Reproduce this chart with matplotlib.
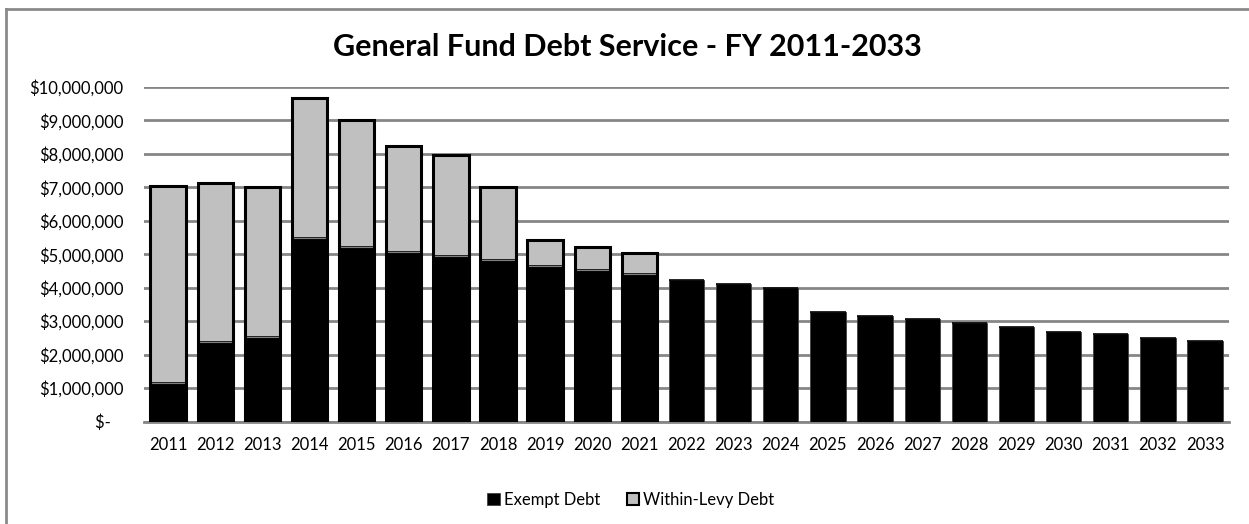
import numpy as np
import matplotlib.pyplot as plt
from matplotlib.patches import Rectangle
from matplotlib.ticker import FuncFormatter

plt.rcParams['font.family'] = ['Lato', 'DejaVu Sans']

years = [str(y) for y in range(2011, 2034)]
exempt = [1.15, 2.37, 2.54, 5.50, 5.23, 5.06, 4.95, 4.82, 4.66, 4.53, 4.41,
          4.23, 4.11, 3.99, 3.26, 3.14, 3.07, 2.94, 2.82, 2.68, 2.61, 2.49, 2.40]
total = [7.04, 7.12, 7.00, 9.66, 9.00, 8.25, 7.96, 7.00, 5.42, 5.22, 5.04,
         4.23, 4.11, 3.99, 3.26, 3.14, 3.07, 2.94, 2.82, 2.68, 2.61, 2.49, 2.40]
exempt = np.array(exempt) * 1e6
within_levy = np.array(total) * 1e6 - exempt

fig = plt.figure(figsize=(12.49, 5.24), dpi=100)
ax = fig.add_axes([0.1153, 0.1956, 0.8687, 0.6384])

x = np.arange(len(years))
w = 0.75
has_levy = within_levy > 0

# black segment
ax.bar(x, exempt, w, color='black', edgecolor='#404040', linewidth=0.6,
       label='Exempt Debt', zorder=3)
ax.bar(x, within_levy, w, bottom=exempt, color='#c0c0c0', edgecolor='black',
       linewidth=1.2, label='Within-Levy Debt', zorder=3)
# thick outline around the stacks that have within-levy debt
for xi, e, l in zip(x[has_levy], exempt[has_levy], within_levy[has_levy]):
    ax.add_patch(Rectangle((xi - w / 2, 0), w, e + l, fill=False,
                           edgecolor='black', linewidth=2.2, zorder=4))
    ax.plot([xi - w / 2, xi + w / 2], [e, e], color='#808080', linewidth=0.8,
            zorder=3.5)

ax.set_xlim(-0.51, len(years) - 0.49)
ax.set_ylim(0, 10e6)
ax.set_yticks(np.arange(0, 10.5e6, 1e6))


def money(v, pos):
    if v == 0:
        return '$-   '
    return '${:,.0f}'.format(v)


ax.yaxis.set_major_formatter(FuncFormatter(money))
ax.set_xticks(x)
ax.set_xticklabels(years)
ax.tick_params(axis='both', length=0, labelsize=12, colors='black')
ax.tick_params(axis='x', pad=11)
ax.tick_params(axis='y', pad=15)
ax.grid(axis='y', color='#868686', linewidth=2, zorder=0)
for side in ['top', 'right', 'left']:
    ax.spines[side].set_visible(False)
ax.spines['bottom'].set_color('#868686')
ax.spines['bottom'].set_linewidth(2)

fig.text(0.502, 0.91, 'General Fund Debt Service - FY 2011-2033',
         ha='center', va='center', fontsize=22, fontweight='bold')

leg = fig.legend(loc='center', bbox_to_anchor=(0.505, 0.046), ncol=2,
                 frameon=False, fontsize=12, handlelength=0.75,
                 handleheight=0.75, handletextpad=0.25, columnspacing=1.6)
leg.legend_handles[1].set_edgecolor('black')
leg.legend_handles[1].set_linewidth(1.5)

# chart border (top and left visible in the reference)
fig.add_artist(plt.Line2D([0.0048, 1.0], [0.983, 0.983], color='#8a8a8a',
                          linewidth=2, transform=fig.transFigure))
fig.add_artist(plt.Line2D([0.0048, 0.0048], [0.0, 0.983], color='#8a8a8a',
                          linewidth=2, transform=fig.transFigure))

fig.savefig('out.png', dpi=100)
